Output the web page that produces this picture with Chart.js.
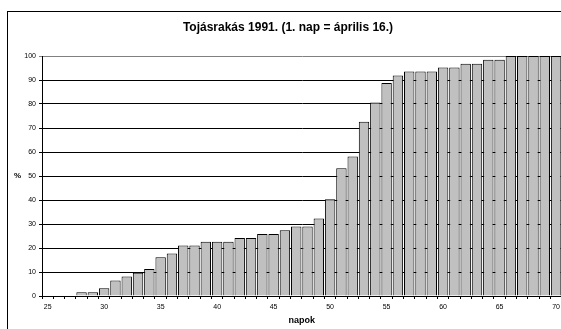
<!DOCTYPE html>
<html>
<head>
<meta charset="utf-8">
<script src="https://cdn.jsdelivr.net/npm/chart.js@4/dist/chart.umd.min.js"></script>
<style>
  html, body { margin: 0; padding: 0; background: #fff; overflow: hidden; }
  #wrap { width: 564px; height: 329px; }
</style>
</head>
<body>
<div id="wrap"><canvas id="myChart" width="564" height="329"></canvas></div>
<script>
var chartTitle = 'Tojásrakás 1991. (1. nap = április 16.)';
var xTitle = 'napok';
var yTitle = '%';

var days = [25, 26, 27, 28, 29, 30, 31, 32, 33, 34, 35, 36, 37, 38, 39, 40,
    41, 42, 43, 44, 45, 46, 47, 48, 49, 50, 51, 52, 53, 54, 55, 56, 57, 58,
    59, 60, 61, 62, 63, 64, 65, 66, 67, 68, 69, 70];
var percent = [0, 0, 0, 1.6, 1.6, 3.2, 6.5, 8.1, 9.7, 11.3, 16.1, 17.7, 21.0,
    21.0, 22.6, 22.6, 22.6, 24.2, 24.2, 25.8, 25.8, 27.4, 29.0, 29.0, 32.3,
    40.3, 53.2, 58.1, 72.6, 80.6, 88.7, 91.9, 93.5, 93.5, 93.5, 95.2, 95.2,
    96.8, 96.8, 98.4, 98.4, 100, 100, 100, 100, 100];
var yTicks = [0, 10, 20, 30, 40, 50, 60, 70, 80, 90, 100];

var fontFam = "Arial, 'Liberation Sans', sans-serif";

// frame round the chart and the unrotated "%" label
var extras = {
    id: 'extras',
    afterDraw: function (chart) {
        var ctx = chart.ctx;
        ctx.save();
        ctx.strokeStyle = '#000';
        ctx.lineWidth = 1;
        ctx.strokeRect(7.5, 11.5, 700, 500);
        ctx.fillStyle = '#000';
        ctx.font = 'bold 8px ' + fontFam;
        ctx.textAlign = 'center';
        ctx.textBaseline = 'middle';
        ctx.fillText(yTitle, 17.5, 176);
        ctx.restore();
    }
};

const ctx = document.getElementById('myChart');

new Chart(ctx, {
    type: 'bar',
    data: {
        labels: days,
        datasets: [{
            label: 'Tojásrakás',
            data: percent,
            backgroundColor: '#c0c0c0',
            borderColor: '#000',
            borderWidth: 1,
            barPercentage: 0.92,
            categoryPercentage: 1.0
        }]
    },
    plugins: [extras],
    options: {
        responsive: false,
        animation: false,
        layout: { padding: { left: 14, right: 2, top: 0, bottom: 0 } },
        plugins: {
            legend: { display: false },
            tooltip: { enabled: false },
            title: {
                display: true,
                text: chartTitle,
                color: '#000',
                font: { family: fontFam, size: 12, weight: 'bold' },
                padding: { top: 20, bottom: 21.6 }
            }
        },
        scales: {
            x: {
                afterFit: function (scale) { scale.height = 33; },
                grid: {
                    offset: true,
                    drawOnChartArea: false,
                    drawTicks: true,
                    tickLength: 3,
                    color: '#000'
                },
                border: { color: '#000', width: 1 },
                ticks: {
                    autoSkip: false,
                    maxRotation: 0,
                    padding: 4,
                    color: '#000',
                    font: { family: fontFam, size: 7 },
                    callback: function (value, index) {
                        var d = days[index];
                        return d % 5 === 0 ? String(d) : '';
                    }
                },
                title: {
                    display: true,
                    text: xTitle,
                    color: '#000',
                    font: { family: fontFam, size: 9, weight: 'bold' },
                    padding: { top: 0, bottom: 2.6 }
                }
            },
            y: {
                min: 0,
                max: 100,
                afterFit: function (scale) { scale.width = 28; },
                afterBuildTicks: function (scale) {
                    scale.ticks = yTicks.map(function (v) { return { value: v }; });
                },
                grid: {
                    color: function (c) {
                        return c.tick && c.tick.value === 100 ? '#808080' : '#000';
                    },
                    lineWidth: 1,
                    tickLength: 3
                },
                border: { color: '#000', width: 1 },
                ticks: {
                    padding: 3,
                    color: '#000',
                    font: { family: fontFam, size: 7 }
                }
            }
        }
    }
});
</script>
</body>
</html>
